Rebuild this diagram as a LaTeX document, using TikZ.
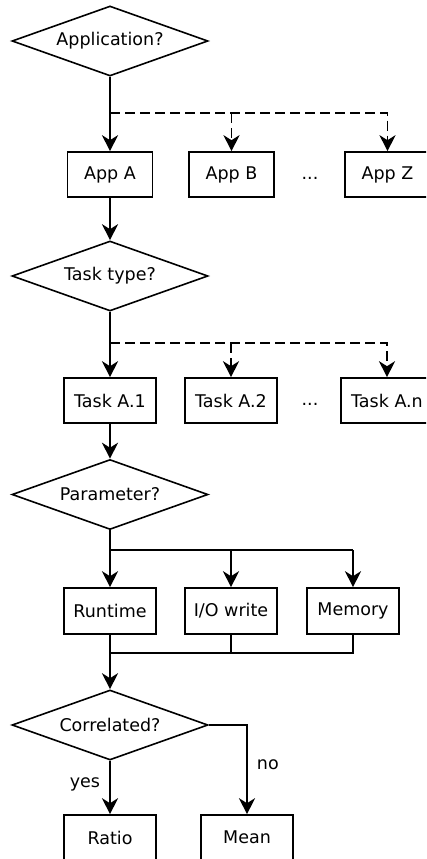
\documentclass[tikz,border=0pt]{standalone}
\usepackage{fontspec}
\setmainfont{DejaVu Sans}
\usetikzlibrary{shapes.geometric,arrows.meta}
\begin{document}
\begin{tikzpicture}[x=1pt,y=-1pt,
  every node/.style={font=\fontsize{17.5}{21}\selectfont},
  box/.style={draw, line width=1.6pt, minimum height=45pt, inner sep=0pt},
  dec/.style={draw, diamond, line width=1.6pt, aspect=2.8, minimum width=196pt, minimum height=70pt, inner sep=0pt},
  lbl/.style={inner sep=0pt},
  conn/.style={line width=1.9pt},
  arr/.style={conn, -{Stealth[length=16pt,width=16pt,inset=5pt]}},
  dsh/.style={arr, dash pattern=on 10pt off 5pt}]
\useasboundingbox (0,0) rectangle (426,859);
\clip (0,0) rectangle (426,859);
% level 1
\node[dec] (app) at (110,41) {Application?};
\node[box, minimum width=85pt] (appa) at (110,174.5) {App A};
\node[box, minimum width=85pt] (appb) at (231.5,174.5) {App B};
\node[lbl] (dots1) at (310,178) {...};
\node[box, minimum width=85pt] (appz) at (387.5,174.5) {App Z};
\coordinate (j1) at (110,113);
\draw[arr] (app.south) -- (appa.north);
\draw[dsh] (j1) -| (appz.north);
\draw[dsh] (j1 -| appb.north) -- (appb.north);
% level 2
\node[dec] (task) at (110,276) {Task type?};
\node[box, minimum width=92pt] (ta1) at (110,400.5) {Task A.1};
\node[box, minimum width=92pt] (ta2) at (231,400.5) {Task A.2};
\node[lbl] (dots2) at (310,404) {...};
\node[box, minimum width=92pt] (tan) at (387,400.5) {Task A.n};
\coordinate (j2) at (110,343);
\draw[arr] (appa.south) -- (task.north);
\draw[arr] (task.south) -- (ta1.north);
\draw[dsh] (j2) -| (tan.north);
\draw[dsh] (j2 -| ta2.north) -- (ta2.north);
% level 3
\node[dec] (par) at (110,494.5) {Parameter?};
\node[box, minimum width=92pt, minimum height=46pt] (rt) at (110,611) {Runtime};
\node[box, minimum width=92pt, minimum height=46pt] (io) at (231,611) {I/O write};
\node[box, minimum width=92pt, minimum height=46pt] (mem) at (353,611) {Memory};
\coordinate (j3) at (110,550);
\coordinate (j4) at (110,653);
\draw[arr] (ta1.south) -- (par.north);
\draw[arr] (par.south) -- (rt.north);
\draw[conn] (j3) -- (j3 -| mem.north);
\draw[arr] (j3 -| io.north) -- (io.north);
\draw[arr] (j3 -| mem.north) -- (mem.north);
% level 4
\node[dec] (cor) at (110,725) {Correlated?};
\node[box, minimum width=92pt] (ratio) at (110,837.5) {Ratio};
\node[box, minimum width=92pt] (mean) at (247,837.5) {Mean};
\draw[conn] (io.south) |- (j4);
\draw[conn] (mem.south) |- (j4);
\draw[arr] (rt.south) -- (cor.north);
\draw[arr] (cor.south) -- node[lbl, left=9pt, pos=0.45] {yes} (ratio.north);
\draw[arr] (cor.east) -| node[lbl, right=9pt, pos=0.72] {no} (mean.north);
\end{tikzpicture}
\end{document}
